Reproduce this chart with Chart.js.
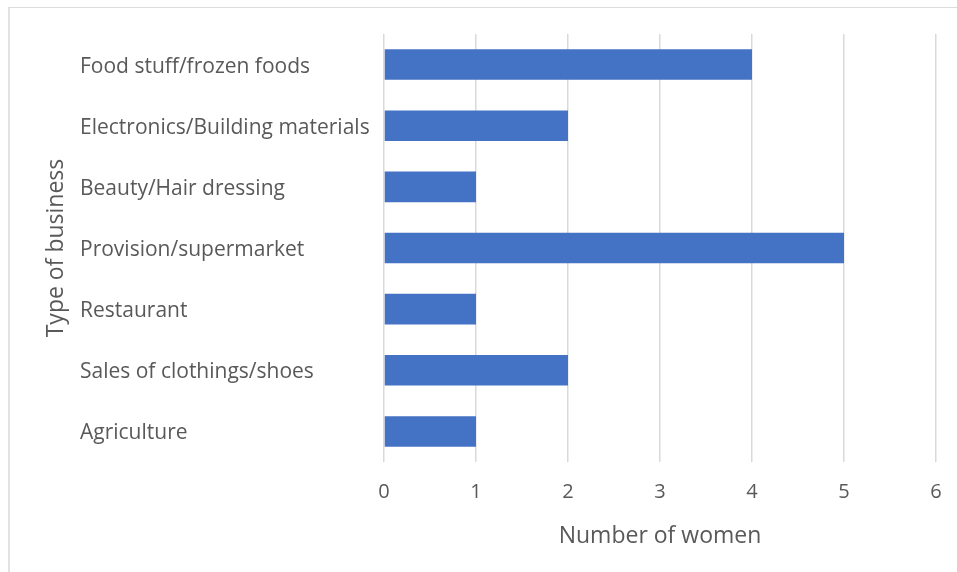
<!DOCTYPE html>
<html>
<head>
<meta charset="utf-8">
<script src="https://cdn.jsdelivr.net/npm/chart.js@4.4.1/dist/chart.umd.min.js"></script>
<style>
  html, body { margin: 0; padding: 0; background: #ffffff; }
  #wrap { position: relative; width: 957px; height: 572px; overflow: hidden; }
  #frame { position: absolute; left: 8px; top: 7px; width: 960px; height: 580px;
           border-top: 1px solid #dcdcdc; border-left: 2px solid #e2e2e2; box-sizing: border-box; }
  canvas { position: absolute; left: 0; top: 0; }
</style>
</head>
<body>
<div id="wrap">
  <div id="frame"></div>
  <canvas id="chart" width="957" height="572"></canvas>
</div>
<script>
// Business categories (top to bottom) and number of women in each
const categories = [
  'Food stuff/frozen foods',
  'Electronics/Building materials',
  'Beauty/Hair dressing',
  'Provision/supermarket',
  'Restaurant',
  'Sales of clothings/shoes',
  'Agriculture'
];
const women = [4, 2, 1, 5, 1, 2, 1];
const xTicks = [0, 1, 2, 3, 4, 5, 6];

const textColor = '#595959';
const fontFamily = '"Open Sans", "Noto Sans", sans-serif';

// Rotated y-axis title drawn beside the left-aligned category labels
const yTitlePlugin = {
  id: 'yTitle',
  afterDraw(chart) {
    const { ctx, chartArea } = chart;
    ctx.save();
    ctx.translate(56, (chartArea.top + chartArea.bottom) / 2);
    ctx.rotate(-Math.PI / 2);
    ctx.fillStyle = textColor;
    ctx.font = '23px ' + fontFamily;
    ctx.textAlign = 'center';
    ctx.textBaseline = 'middle';
    ctx.fillText('Type of business', 0, 0);
    ctx.restore();
  }
};

new Chart(document.getElementById('chart'), {
  type: 'bar',
  data: {
    labels: categories,
    datasets: [{
      data: women,
      backgroundColor: '#4472C4',
      borderWidth: 0,
      barPercentage: 0.5,
      categoryPercentage: 1.0
    }]
  },
  options: {
    indexAxis: 'y',
    responsive: false,
    animation: false,
    layout: { padding: { left: 80, right: 21, top: 34, bottom: 0 } },
    plugins: { legend: { display: false }, tooltip: { enabled: false } },
    scales: {
      x: {
        min: 0, max: 6,
        afterBuildTicks(scale) { scale.ticks = xTicks.map(v => ({ value: v })); },
        afterFit(scale) {
          scale.height = 110;
          scale.paddingLeft = 0;
          scale.paddingRight = 0;
        },
        grid: { color: '#d9d9d9', lineWidth: 1.5, drawTicks: false },
        border: { display: false },
        ticks: { color: textColor, font: { family: fontFamily, size: 20 }, padding: 18 },
        title: {
          display: true, text: 'Number of women', color: textColor,
          font: { family: fontFamily, size: 23 }, padding: { top: 0, bottom: 22 }
        }
      },
      y: {
        afterFit(scale) { scale.width = 304; },
        grid: { display: false, drawTicks: false },
        border: { display: false },
        ticks: { color: textColor, crossAlign: 'far', labelOffset: 2, font: { family: fontFamily, size: 21 } }
      }
    }
  },
  plugins: [yTitlePlugin]
});
</script>
</body>
</html>
